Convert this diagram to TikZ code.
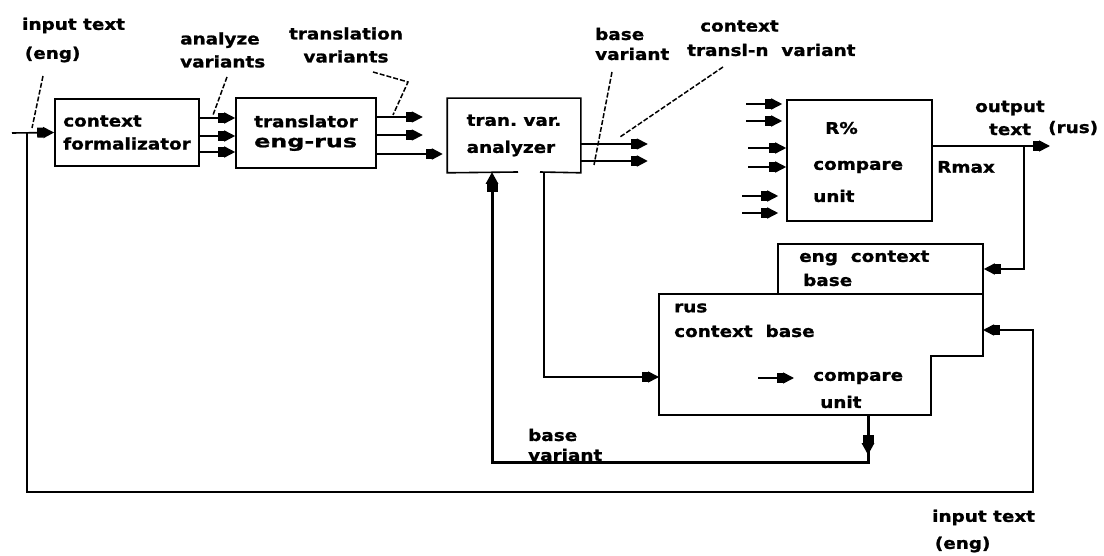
\documentclass[tikz,border=0pt]{standalone}
\usepackage{fontspec}
\usetikzlibrary{arrows.meta}
\newfontfamily\lblfont{DejaVu Sans}[FakeStretch=1.15,FakeBold=1.2]
\newfontfamily\widefont{DejaVu Sans}[FakeStretch=1.4,FakeBold=1.2]
\tikzset{
    box/.style={draw, line width=1.6pt, inner sep=0, align=left, font=\lblfont\bfseries\fontsize{16}{23}\selectfont},
    txt/.style={inner sep=0, align=left, anchor=west, font=\lblfont\bfseries\fontsize{16}{23}\selectfont},
    arr/.style={line width=1.6pt, -{Rectangle[length=6pt,width=10pt]Triangle[length=11pt,width=11pt]}},
    thk/.style={line width=3pt, -{Rectangle[length=8pt,width=11pt]Triangle[length=12pt,width=12pt]}},
    lead/.style={line width=1.5pt, dash pattern=on 5pt off 2pt}
}

\begin{document}
\begin{tikzpicture}[x=1pt,y=-1pt]
    \useasboundingbox (0,0) rectangle (1104,556);
    \node[box, minimum width=144, minimum height=67] (fmt) at (127,132.5) {context\\formalizator};
    \node[box, minimum width=140, minimum height=70] (tr) at (306,133) {translator\\[-3pt]{\widefont\bfseries\fontsize{17}{20}\selectfont eng-rus}};
    \node[box, draw=none, minimum width=132, minimum height=73] (ana) at (514,135.5) {tran.\ var.\\[4pt]analyzer};
    \coordinate (gl) at (518,172);
    \coordinate (gr) at (540,172);
    \draw[line width=1.6pt] (gl) -- (ana.south west) -- (ana.north west) -- (ana.north east) -- (ana.south east) -- (gr);
    \node[box, minimum width=145, minimum height=121] (cmp) at (859.5,160.5) {};
    \node[txt] (rp) at (825,128) {R\%};
    \node[txt] (cc) at (813,167) {compare};
    \node[txt] (cu) at (813,196) {unit};
    \node[box, minimum width=205, minimum height=50] (eng) at (880.5,269) {};
    \node[txt] (et) at (799,258) {eng\ \ context};
    \node[txt] (eb) at (803,280) {base};
    \coordinate (r1) at (659,294);
    \coordinate (r2) at (983,294);
    \coordinate (r3) at (983,356);
    \coordinate (r4) at (931,356);
    \coordinate (r5) at (931,415);
    \coordinate (r6) at (659,415);
    \draw[line width=1.6pt] (r1) -- (r2) -- (r3) -- (r4) -- (r5) -- (r6) -- cycle;
    \node[txt] (rt) at (674,308) {rus};
    \node[txt] (rc) at (674,331) {context\ \ base};
    \node[txt] (rcc) at (813,378) {compare};
    \node[txt] (rcu) at (820,402) {unit};

    \node[txt] (lin) at (22,40) {input text\\[6pt]\,(eng)};
    \node[txt] (lav) at (180,50) {analyze\\variants};
    \node[txt, align=center, anchor=center] (ltv) at (346,45) {translation\\variants};
    \node[txt] (lbv) at (595,44) {base\\[-3pt]variant};
    \node[txt] (lc1) at (700,26) {context};
    \node[txt] (lc2) at (687,50) {transl-n\ \ variant};
    \node[txt, align=center, anchor=center] (lot) at (1010,118) {output\\text};
    \node[txt] (lrus) at (1048,128) {(rus)};
    \node[txt] (lrm) at (937,167) {Rmax};
    \node[txt] (lbb) at (528,445) {base\\[-3pt]variant};
    \node[txt] (lie) at (932,531) {input text\\[4pt]\,(eng)};

    \coordinate (in) at (12,133);
    \coordinate (tap) at (27,133);
    \coordinate (lr) at (1033,492);
    \coordinate (rin) at (983,330);
    \draw[arr] (in) -- (fmt.west);
    \draw[arr] (tap) |- (lr) |- (rin);
    \foreach \y in {118,136,152}
        \draw[arr] (fmt.east |- 0,\y) -- (tr.west |- 0,\y);
    \draw[arr] (tr.east |- 0,117) -- +(46,0);
    \draw[arr] (tr.east |- 0,135) -- +(46,0);
    \draw[arr, line width=2.2pt] (tr.east |- 0,154) -- +(66,0);
    \draw[arr] (ana.east |- 0,144) -- +(67,0);
    \draw[arr, line width=2.2pt] (ana.east |- 0,161) -- +(67,0);
    \foreach \y/\a/\b in {104/-40/-4, 121/-40/-4, 148/-38/0, 167/-38/0, 196/-44/-8, 213/-44/-8}
        \draw[arr] ([xshift=\a]cmp.west |- 0,\y) -- ([xshift=\b]cmp.west |- 0,\y);
    \coordinate (out) at (1050,146);
    \coordinate (tapo) at (1024,146);
    \draw[arr] (cmp.east |- out) -- (out);
    \draw[arr] (tapo) |- (eng.east);
    \coordinate (ad) at (544,172);
    \draw[arr] (ad) |- (r6 |- 0,377);
    \coordinate (ra) at (758,378);
    \draw[arr] (ra) -- ([xshift=-19]rcc.west);
    \coordinate (rcb) at (868,415);
    \coordinate (lb) at (868,462);
    \coordinate (au) at (492,172);
    \draw[thk] (rcb) -- ++(0,40);
    \draw[thk] (rcb) -- (lb) -| (au);

    \draw[lead] (43,76) -- (32,128);
    \draw[lead] (227,77) -- (213,115);
    \draw[lead] (373,72) -- (408,82) -- (393,115);
    \draw[lead] (612,72) -- (594,165);
    \draw[lead] (723,67) -- (620,137);
\end{tikzpicture}
\end{document}
